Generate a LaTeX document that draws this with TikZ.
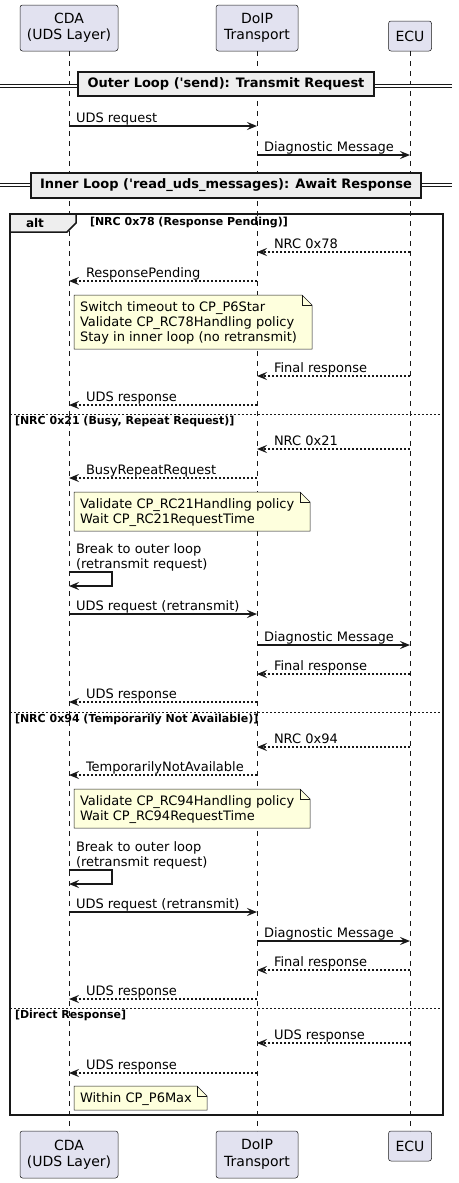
\documentclass[tikz,border=0pt]{standalone}
\usepackage{fontspec}
\setmainfont{DejaVu Sans}
\usetikzlibrary{arrows.meta}
\definecolor{umlline}{HTML}{181818}
\definecolor{umlpart}{HTML}{E2E2F0}
\definecolor{umlnote}{HTML}{FEFFDD}
\definecolor{umlgrp}{HTML}{EEEEEE}
\begin{document}
\begin{tikzpicture}[x=1pt,y=-1pt,inner sep=0pt,outer sep=0pt,
actor/.style={draw=umlline,fill=umlpart,rounded corners=2.5pt,line width=0.5pt,align=center,font=\fontsize{14}{16.5}\selectfont},
lifeline/.style={draw=umlline,line width=0.5pt,dash pattern=on 5pt off 5pt},
msg/.style={draw=umlline,line width=1.3pt,-{Stealth[length=10pt,width=8pt,inset=4pt]}},
reply/.style={msg,dash pattern=on 2pt off 2pt},
lblr/.style={pos=0,anchor=base west,xshift=7pt,yshift=4pt,font=\fontsize{13}{15}\selectfont},
lbll/.style={pos=1,anchor=base west,xshift=17pt,yshift=4pt,font=\fontsize{13}{15}\selectfont},
selflbl/.style={pos=0,anchor=south west,xshift=7pt,yshift=1pt,align=left,font=\fontsize{13}{15}\selectfont},
note/.style={draw=umlline,fill=umlnote,line width=0.5pt},
notetext/.style={anchor=north west,align=left,font=\fontsize{13}{15}\selectfont},
divider/.style={draw=umlline,fill=umlgrp,line width=1.5pt,font=\bfseries\fontsize{13}{15}\selectfont},
dbl/.style={draw=umlline,line width=1pt,double=white,double distance=2pt},
frame/.style={draw=umlline,line width=1.5pt},
guard/.style={anchor=base west,font=\bfseries\fontsize{11}{13}\selectfont},
sep/.style={draw=umlline,line width=0.8pt,dash pattern=on 2pt off 2pt}]
\useasboundingbox (0,0) rectangle (458,1183);

% participants
\draw (69,28) node[actor,minimum width=98pt,minimum height=46pt] (cdatop) {CDA\\(UDS Layer)};
\draw (257,28) node[actor,minimum width=82pt,minimum height=46pt] (doiptop) {DoIP\\Transport};
\draw (410,36) node[actor,minimum width=43pt,minimum height=30pt] (ecutop) {ECU};
\draw (69,1154.5) node[actor,minimum width=98pt,minimum height=47pt] (cdabot) {CDA\\(UDS Layer)};
\draw (257,1154.5) node[actor,minimum width=82pt,minimum height=47pt] (doipbot) {DoIP\\Transport};
\draw (410,1146) node[actor,minimum width=43pt,minimum height=30pt] (ecubot) {ECU};
\draw[lifeline] (cdatop.south) -- (cdabot.north);
\draw[lifeline] (doiptop.south) -- (doipbot.north);
\draw[lifeline] (ecutop.south) -- (ecubot.north);

% outer loop
\draw[dbl] (0,85.5) -- (452,85.5);
\draw (226,84) node[divider,minimum width=296pt,minimum height=24pt] (outer) {Outer Loop (\textquotesingle send): Transmit Request};
\coordinate (m1) at (0,126);
\coordinate (m2) at (0,155);
\draw[msg] (cdatop |- m1) -- node[lblr] {UDS request} (doiptop |- m1);
\draw[msg] (doiptop |- m2) -- node[lblr] {Diagnostic Message} (ecutop |- m2);

% inner loop
\draw[dbl] (0,184.5) -- (452,184.5);
\draw (226,185.5) node[divider,minimum width=390pt,minimum height=25pt] (inner) {Inner Loop (\textquotesingle read\_uds\_messages): Await Response};

% alt frame
\draw[frame] (10,214) rectangle (443,1115);
\filldraw[frame,fill=umlgrp] (10,214) -- (76,214) -- (76,223) -- (67,232) -- (10,232) -- cycle;
\draw (35,227) node[anchor=base,font=\bfseries\fontsize{12}{14}\selectfont] (alt) {alt};
\draw (90,225) node[guard] (g1) {[NRC 0x78 (Response Pending)]};
\coordinate (a1) at (0,252);
\coordinate (a2) at (0,281);
\coordinate (a3) at (0,376);
\coordinate (a4) at (0,405);
\draw[reply] (ecutop |- a1) -- node[lbll] {NRC 0x78} (doiptop |- a1);
\draw[reply] (doiptop |- a2) -- node[lbll] {ResponsePending} (cdatop |- a2);
\coordinate (n1) at (74,295);
\filldraw[note] (n1) -- ++(228,0) -- ++(10,10) |- ++(-238,44) -- cycle;
\draw[note,fill=none] (n1) ++(228,0) -- ++(0,10) -- ++(10,0);
\draw (n1) ++(6,7) node[notetext] (t1) {Switch timeout to CP\_P6Star\\Validate CP\_RC78Handling policy\\Stay in inner loop (no retransmit)};
\draw[reply] (ecutop |- a3) -- node[lbll] {Final response} (doiptop |- a3);
\draw[reply] (doiptop |- a4) -- node[lbll] {UDS response} (cdatop |- a4);

\draw[sep] (10,414) -- (443,414);
\draw (15,424) node[guard] (g2) {[NRC 0x21 (Busy, Repeat Request)]};
\coordinate (b1) at (0,449);
\coordinate (b2) at (0,478);
\coordinate (b3) at (0,572);
\coordinate (b3e) at (112,586);
\coordinate (b4) at (0,614);
\coordinate (b5) at (0,645);
\coordinate (b6) at (0,674);
\coordinate (b7) at (0,702);
\draw[reply] (ecutop |- b1) -- node[lbll] {NRC 0x21} (doiptop |- b1);
\draw[reply] (doiptop |- b2) -- node[lbll] {BusyRepeatRequest} (cdatop |- b2);
\coordinate (n2) at (74,492);
\filldraw[note] (n2) -- ++(226,0) -- ++(10,10) |- ++(-236,29) -- cycle;
\draw[note,fill=none] (n2) ++(226,0) -- ++(0,10) -- ++(10,0);
\draw (n2) ++(6,7) node[notetext] (t2) {Validate CP\_RC21Handling policy\\Wait CP\_RC21RequestTime};
\draw[msg] (cdatop |- b3) -| node[selflbl] {Break to outer loop\\(retransmit request)} (b3e) -- (cdatop |- b3e);
\draw[msg] (cdatop |- b4) -- node[lblr] {UDS request (retransmit)} (doiptop |- b4);
\draw[msg] (doiptop |- b5) -- node[lblr] {Diagnostic Message} (ecutop |- b5);
\draw[reply] (ecutop |- b6) -- node[lbll] {Final response} (doiptop |- b6);
\draw[reply] (doiptop |- b7) -- node[lbll] {UDS response} (cdatop |- b7);

\draw[sep] (10,712) -- (443,712);
\draw (15,722) node[guard] (g3) {[NRC 0x94 (Temporarily Not Available)]};
\coordinate (c1) at (0,747);
\coordinate (c2) at (0,775);
\coordinate (c3) at (0,870);
\coordinate (c3e) at (112,884);
\coordinate (c4) at (0,912);
\coordinate (c5) at (0,941);
\coordinate (c6) at (0,970);
\coordinate (c7) at (0,999);
\draw[reply] (ecutop |- c1) -- node[lbll] {NRC 0x94} (doiptop |- c1);
\draw[reply] (doiptop |- c2) -- node[lbll] {TemporarilyNotAvailable} (cdatop |- c2);
\coordinate (n3) at (74,789);
\filldraw[note] (n3) -- ++(226,0) -- ++(10,10) |- ++(-236,29) -- cycle;
\draw[note,fill=none] (n3) ++(226,0) -- ++(0,10) -- ++(10,0);
\draw (n3) ++(6,7) node[notetext] (t3) {Validate CP\_RC94Handling policy\\Wait CP\_RC94RequestTime};
\draw[msg] (cdatop |- c3) -| node[selflbl] {Break to outer loop\\(retransmit request)} (c3e) -- (cdatop |- c3e);
\draw[msg] (cdatop |- c4) -- node[lblr] {UDS request (retransmit)} (doiptop |- c4);
\draw[msg] (doiptop |- c5) -- node[lblr] {Diagnostic Message} (ecutop |- c5);
\draw[reply] (ecutop |- c6) -- node[lbll] {Final response} (doiptop |- c6);
\draw[reply] (doiptop |- c7) -- node[lbll] {UDS response} (cdatop |- c7);

\draw[sep] (10,1008) -- (443,1008);
\draw (15,1018) node[guard] (g4) {[Direct Response]};
\coordinate (d1) at (0,1043);
\coordinate (d2) at (0,1073);
\draw[reply] (ecutop |- d1) -- node[lbll] {UDS response} (doiptop |- d1);
\draw[reply] (doiptop |- d2) -- node[lbll] {UDS response} (cdatop |- d2);
\coordinate (n4) at (74,1086);
\filldraw[note] (n4) -- ++(123,0) -- ++(10,10) |- ++(-133,14) -- cycle;
\draw[note,fill=none] (n4) ++(123,0) -- ++(0,10) -- ++(10,0);
\draw (n4) ++(6,7) node[notetext] (t4) {Within CP\_P6Max};
\end{tikzpicture}
\end{document}
